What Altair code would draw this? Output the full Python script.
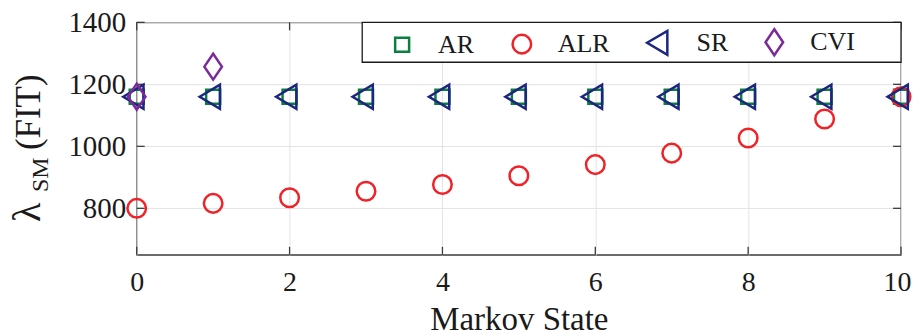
import altair as alt
import pandas as pd

# ---- data ----
states = [0, 1, 2, 3, 4, 5, 6, 7, 8, 9, 10]
ar_vals = [1160, 1160, 1160, 1160, 1160, 1160, 1160, 1160, 1160, 1160, 1160]
alr_vals = [800, 816, 834, 855, 877, 905, 941, 978, 1027, 1088, 1160]
sr_vals = [1160, 1160, 1160, 1160, 1160, 1160, 1160, 1160, 1160, 1160, 1160]
cvi_states = [0, 1]
cvi_vals = [1160, 1257]

series_names = ["AR", "ALR", "SR", "CVI"]
series_colors = ["#0B7F3F", "#EF2228", "#1C2580", "#7B2A9B"]
series_shapes = [
    "M-0.7,-0.7L0.7,-0.7L0.7,0.7L-0.7,0.7Z",
    "M0.93,0A0.93,0.93,0,1,1,-0.93,0A0.93,0.93,0,1,1,0.93,0Z",
    "M-1.35,0L0.68,-1.2L0.68,1.2Z",
    "M0,-1.3L0.88,0L0,1.3L-0.88,0Z",
]

x_ticks = [0, 2, 4, 6, 8, 10]
y_ticks = [800, 1000, 1200, 1400]

rows = []
for s, v in zip(states, ar_vals):
    rows.append({"state": s, "value": v, "series": "AR"})
for s, v in zip(states, alr_vals):
    rows.append({"state": s, "value": v, "series": "ALR"})
for s, v in zip(states, sr_vals):
    rows.append({"state": s, "value": v, "series": "SR"})
for s, v in zip(cvi_states, cvi_vals):
    rows.append({"state": s, "value": v, "series": "CVI"})
df = pd.DataFrame(rows)
df["order"] = range(len(df))

W, H = 766, 233
FONT = "Liberation Serif"
FRAME = "#3C3C3C"

xscale = alt.Scale(domain=[0, 10], nice=False, zero=False)
yscale = alt.Scale(domain=[650, 1400], nice=False, zero=False)

legend = alt.Legend(title=None, orient="none", legendX=253, legendY=7,
                    direction="horizontal", columns=4)

points = alt.Chart(df).mark_point(filled=False, size=400, strokeWidth=2.5, opacity=1).encode(
    x=alt.X("state:Q", scale=xscale,
            axis=alt.Axis(values=x_ticks, title="Markov State", grid=True, ticks=False,
                          tickSize=0, domain=False, labelPadding=14, titlePadding=7,
                          labelFlush=False, format="d", labelFontSize=28,
                          labelOffset=alt.condition("datum.value == 10",
                                                    alt.value(-4), alt.value(0)))),
    y=alt.Y("value:Q", scale=yscale,
            axis=alt.Axis(values=y_ticks, title=None, grid=True, ticks=False, tickSize=0,
                          domain=False, labelPadding=11, format="d")),
    color=alt.Color("series:N", scale=alt.Scale(domain=series_names, range=series_colors),
                    legend=legend),
    shape=alt.Shape("series:N", scale=alt.Scale(domain=series_names, range=series_shapes),
                    legend=legend),
    order=alt.Order("order:Q"),
)

xt = pd.DataFrame({"t": x_ticks})
yt = pd.DataFrame({"t": y_ticks})
tick_style = dict(color=FRAME, strokeWidth=1.3)
xb = alt.Chart(xt).mark_rule(**tick_style).encode(
    x=alt.X("t:Q", scale=xscale), y=alt.value(H), y2=alt.value(H - 8))
xtp = alt.Chart(xt).mark_rule(**tick_style).encode(
    x=alt.X("t:Q", scale=xscale), y=alt.value(0), y2=alt.value(8))
yl = alt.Chart(yt).mark_rule(**tick_style).encode(
    y=alt.Y("t:Q", scale=yscale), x=alt.value(0), x2=alt.value(8))
yr = alt.Chart(yt).mark_rule(**tick_style).encode(
    y=alt.Y("t:Q", scale=yscale), x=alt.value(W), x2=alt.value(W - 8))

one = pd.DataFrame({"k": [0]})
legend_box = alt.Chart(one).mark_rect(fill="white", stroke="#1A1A1A", strokeWidth=1.3).encode(
    x=alt.value(226), x2=alt.value(W), y=alt.value(0), y2=alt.value(40))

title_lam = alt.Chart(one).mark_text(angle=270, align="left", baseline="alphabetic",
                                     font=FONT, fontSize=40, color="#1A1A1A").encode(
    x=alt.value(-97), y=alt.value(200), text=alt.value("λ"))
title_sub = alt.Chart(one).mark_text(angle=270, align="left", baseline="alphabetic",
                                     font=FONT, fontSize=24, color="#1A1A1A").encode(
    x=alt.value(-89), y=alt.value(170), text=alt.value("SM"))
title_fit = alt.Chart(one).mark_text(angle=270, align="left", baseline="alphabetic",
                                     font=FONT, fontSize=35, color="#1A1A1A").encode(
    x=alt.value(-97), y=alt.value(128), text=alt.value("(FIT)"))

chart = alt.layer(
    xb, xtp, yl, yr, legend_box, points, title_lam, title_sub, title_fit
).properties(
    width=W, height=H,
    autosize=alt.AutoSizeParams(type="none"),
    padding={"left": 129, "top": 14, "right": 11, "bottom": 81},
).configure_view(
    stroke=FRAME, strokeWidth=1.3
).configure_axis(
    labelFont=FONT, labelFontSize=29, labelColor="#1A1A1A",
    titleFont=FONT, titleFontSize=33, titleColor="#1A1A1A", titleFontWeight="normal",
    gridColor="#E3E3E3", gridWidth=1,
).configure_legend(
    labelFont=FONT, labelFontSize=26, labelColor="#1A1A1A",
    symbolSize=400, symbolStrokeWidth=2.5, symbolOffset=0, labelOffset=23,
    columnPadding=32, padding=0, strokeColor="transparent",
)

chart.save("out.html", embed_options={"renderer": "svg", "actions": False})
